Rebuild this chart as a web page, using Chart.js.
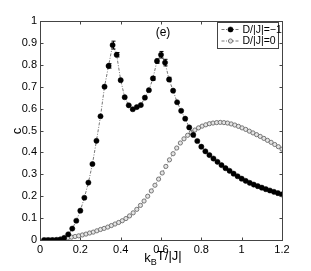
<!DOCTYPE html>
<html><head><meta charset="utf-8">
<script src="https://cdn.jsdelivr.net/npm/chart.js@4/dist/chart.umd.min.js"></script>
<style>html,body{margin:0;padding:0;background:#fff;}canvas{display:block;}</style>
</head><body>
<canvas id="c" width="311" height="271"></canvas>
<script>
const tFilled = [0.02,0.04,0.06,0.08,0.10,0.12,0.14,0.16,0.18,0.20,0.22,0.24,0.26,0.28,0.30,0.32,0.34,0.36,0.38,0.40,0.42,0.44,0.46,0.48,0.50,0.52,0.54,0.56,0.58,0.60,0.62,0.64,0.66,0.68,0.70,0.72,0.74,0.76,0.78,0.80,0.82,0.84,0.86,0.88,0.90,0.92,0.94,0.96,0.98,1.00,1.02,1.04,1.06,1.08,1.10,1.12,1.14,1.16,1.18,1.20];
const cFilled = [0,0,0,0,0.002,0.01,0.026,0.052,0.088,0.134,0.193,0.262,0.347,0.453,0.565,0.70,0.795,0.89,0.846,0.73,0.652,0.615,0.597,0.607,0.616,0.65,0.684,0.738,0.817,0.846,0.81,0.733,0.682,0.629,0.59,0.554,0.514,0.48,0.452,0.426,0.405,0.388,0.372,0.357,0.342,0.328,0.316,0.303,0.291,0.28,0.27,0.261,0.253,0.246,0.239,0.232,0.226,0.22,0.214,0.208];
const errFilled = [0,0,0,0,0,0,0,0,0,0,0,0,0,0,0,0,0.01,0.018,0.01,0,0,0,0,0,0,0,0,0.008,0.01,0.015,0.015,0.01,0,0,0,0,0,0,0,0,0,0,0,0,0,0,0,0,0,0,0,0,0,0,0,0,0,0,0,0];
const tOpen = [0.030,0.048,0.066,0.084,0.102,0.120,0.138,0.156,0.174,0.192,0.210,0.228,0.246,0.264,0.282,0.300,0.318,0.336,0.354,0.372,0.390,0.408,0.426,0.444,0.462,0.480,0.498,0.516,0.534,0.552,0.570,0.588,0.606,0.624,0.642,0.660,0.678,0.696,0.714,0.732,0.750,0.768,0.786,0.804,0.822,0.840,0.858,0.876,0.894,0.912,0.930,0.948,0.966,0.984,1.002,1.020,1.038,1.056,1.074,1.092,1.110,1.128,1.146,1.164,1.182,1.200];
const cOpen = [0.000,0.000,0.001,0.003,0.005,0.007,0.010,0.013,0.016,0.019,0.023,0.027,0.032,0.036,0.042,0.048,0.053,0.059,0.066,0.073,0.080,0.088,0.098,0.110,0.124,0.140,0.158,0.178,0.200,0.224,0.250,0.278,0.306,0.336,0.366,0.394,0.420,0.443,0.462,0.478,0.491,0.502,0.512,0.520,0.526,0.531,0.534,0.536,0.537,0.536,0.534,0.530,0.525,0.519,0.512,0.505,0.497,0.489,0.481,0.473,0.464,0.455,0.446,0.436,0.426,0.415];
const seriesNames = ['D/|J|=\u22121','D/|J|=0'];
const xTicks = [0,0.2,0.4,0.6,0.8,1,1.2];
const yTicks = [0,0.1,0.2,0.3,0.4,0.5,0.6,0.7,0.8,0.9,1];
const panelLabel = '(e)';
const yTitle = 'c';

const FONT = 'Liberation Sans, Arial, sans-serif';
const fmt = v => String(Number(v.toFixed(2)));

const frame = {
  id:'frame',
  afterDatasetsDraw(chart){
    const {ctx, chartArea:a, scales:{x,y}} = chart;
    ctx.save();
    // error bars
    ctx.strokeStyle='#000'; ctx.lineWidth=1;
    errFilled.forEach((e,i)=>{
      if(!e) return;
      const px=Math.round(x.getPixelForValue(tFilled[i]))+0.5;
      const y1=y.getPixelForValue(cFilled[i]-e), y2=y.getPixelForValue(cFilled[i]+e);
      ctx.beginPath(); ctx.moveTo(px,y1); ctx.lineTo(px,y2);
      ctx.moveTo(px-2,y1); ctx.lineTo(px+2,y1);
      ctx.moveTo(px-2,y2); ctx.lineTo(px+2,y2); ctx.stroke();
    });
    // frame
    ctx.strokeStyle='#444'; ctx.lineWidth=1;
    const L=Math.round(a.left)+0.5, R=Math.round(a.right)+0.5, T=Math.round(a.top)+0.5, B=Math.round(a.bottom)+0.5;
    ctx.strokeRect(L,T,R-L,B-T);
    ctx.beginPath();
    xTicks.forEach(v=>{const p=Math.round(x.getPixelForValue(v))+0.5; ctx.moveTo(p,B); ctx.lineTo(p,B-3); ctx.moveTo(p,T); ctx.lineTo(p,T+3);});
    yTicks.forEach(v=>{const p=Math.round(y.getPixelForValue(v))+0.5; ctx.moveTo(L,p); ctx.lineTo(L+3,p); ctx.moveTo(R,p); ctx.lineTo(R-3,p);});
    ctx.stroke();
    // panel label
    ctx.fillStyle='#000'; ctx.font='12px '+FONT; ctx.textAlign='center'; ctx.textBaseline='middle';
    ctx.fillText(panelLabel, 163, 33);
    // y title
    ctx.save(); ctx.translate(17,131); ctx.rotate(-Math.PI/2);
    ctx.font='13px '+FONT; ctx.fillText(yTitle,0,0); ctx.restore();
    // x title k_B T/|J|
    ctx.textAlign='left'; ctx.textBaseline='alphabetic';
    const big='13px '+FONT, small='9px '+FONT;
    ctx.font=big; const w1=ctx.measureText('k').width, w3=ctx.measureText('T/|J|').width;
    ctx.font=small; const w2=ctx.measureText('B').width;
    let sx=(a.left+a.right)/2 - (w1+w2+w3)/2 + 2; const by=262;
    ctx.font=big; ctx.fillText('k',sx,by); sx+=w1;
    ctx.font=small; ctx.fillText('B',sx,by+3); sx+=w2;
    ctx.font=big; ctx.fillText('T/|J|',sx,by-2);
    // legend
    const lx=217.5, ly=22.5, lw=61, lh=26;
    ctx.fillStyle='#fff'; ctx.fillRect(lx,ly,lw,lh);
    ctx.strokeStyle='#444'; ctx.strokeRect(lx,ly,lw,lh);
    chart.data.datasets.forEach((ds,i)=>{
      const cy=ly+7+i*11.5;
      ctx.strokeStyle='#555'; ctx.lineWidth=0.8; ctx.setLineDash([3,1.5,1,1.5]);
      ctx.beginPath(); ctx.moveTo(lx+4,cy); ctx.lineTo(lx+22,cy); ctx.stroke(); ctx.setLineDash([]);
      ctx.beginPath(); ctx.arc(lx+13,cy,ds.pointRadius,0,Math.PI*2);
      ctx.fillStyle=ds.pointBackgroundColor; ctx.fill();
      ctx.strokeStyle=ds.pointBorderColor; ctx.lineWidth=ds.pointBorderWidth; ctx.stroke();
      ctx.fillStyle='#000'; ctx.font='10.5px '+FONT; ctx.textBaseline='middle';
      ctx.fillText(ds.label, lx+25, cy+0.5);
    });
    ctx.restore();
  }
};

new Chart(document.getElementById('c'), {
  type:'scatter',
  data:{datasets:[
    {label:seriesNames[0], data:tFilled.map((t,i)=>({x:t,y:cFilled[i]})), showLine:true,
     borderColor:'#555', borderWidth:0.8, borderDash:[3,1.5,1,1.5],
     pointRadius:2.6, pointBackgroundColor:'#000', pointBorderColor:'#000', pointBorderWidth:0.5},
    {label:seriesNames[1], data:tOpen.map((t,i)=>({x:t,y:cOpen[i]})), showLine:true,
     borderColor:'#777', borderWidth:0.8, borderDash:[3,1.5,1,1.5],
     pointRadius:2.1, pointBackgroundColor:'#e4e4e4', pointBorderColor:'#6a6a6a', pointBorderWidth:0.9}
  ]},
  options:{
    responsive:false, animation:false, devicePixelRatio:1,
    layout:{padding:{left:0, top:21, right:29, bottom:0}},
    plugins:{legend:{display:false}, tooltip:{enabled:false}},
    scales:{
      x:{type:'linear', min:0, max:1.2,
         afterBuildTicks(s){ s.ticks = xTicks.map(v=>({value:v})); },
         afterFit(s){ s.height=31; },
         grid:{display:false, drawTicks:false}, border:{display:false},
         ticks:{padding:3, color:'#000', font:{family:FONT, size:11}, maxRotation:0, callback:v=>fmt(v)}},
      y:{type:'linear', min:0, max:1,
         afterBuildTicks(s){ s.ticks = yTicks.map(v=>({value:v})); },
         afterFit(s){ s.width=40; },
         grid:{display:false, drawTicks:false}, border:{display:false},
         ticks:{padding:3, color:'#000', font:{family:FONT, size:11}, callback:v=>fmt(v)}}
    }
  },
  plugins:[frame]
});
</script>
</body></html>
